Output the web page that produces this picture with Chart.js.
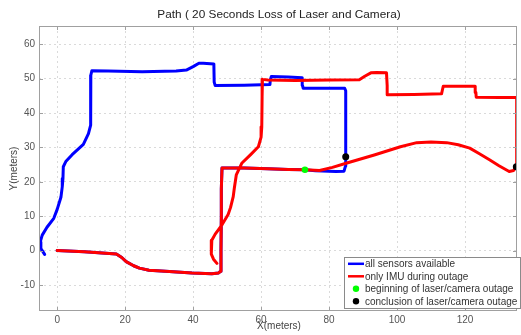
<!DOCTYPE html>
<html>
<head>
<meta charset="utf-8">
<script src="https://cdn.jsdelivr.net/npm/chart.js@4.4.1/dist/chart.umd.min.js"></script>
<style>
  html, body { margin: 0; padding: 0; background: #fff; }
  #wrap { width: 521px; height: 335px; }
</style>
</head>
<body>
<div id="wrap"><canvas id="c" width="521" height="335"></canvas></div>
<script>
// Trajectory shared by both estimates until the laser/camera outage begins [x, y] (m)
const sharedPath = [
  [0, 0], [8, -0.3], [17.4, -1.0], [19, -2.0], [20.3, -3.2], [22.5, -4.4], [24.2, -5.1],
  [27, -5.7], [33, -6.1], [39.7, -6.5], [45.5, -6.7], [47.5, -6.5], [48.1, -6.0],
  [48.2, 0], [48.3, 10], [48.3, 18], [48.5, 24.0], [55, 24.0], [62, 23.8], [68, 23.6], [72.9, 23.5]
];

// Path with all sensors available, after the outage start
const allSensorsPath = [
  [76, 23.2], [82, 23.0], [84.4, 23.1], [84.8, 24.5], [84.9, 27.3], [84.9, 35], [84.9, 46.5],
  [84.6, 47.2], [78, 47.2], [72.4, 47.2], [72.2, 48], [72.1, 50.3], [68, 50.5], [63, 50.6],
  [62.7, 49.5], [62.6, 48.3], [55, 48.1], [46.5, 48.0], [46.2, 49], [46.1, 54.3], [43, 54.5],
  [41.7, 54.5], [40, 53.5], [38, 52.5], [35, 52.2], [25, 52.0], [15, 52.2], [10.2, 52.3],
  [9.9, 51], [9.9, 40], [9.8, 36.5], [9.2, 34], [7.7, 30.9], [4.4, 27.9], [2.6, 26],
  [1.8, 24.4], [1.7, 21], [1.5, 18.6], [1.1, 15.5], [0, 12], [-1.0, 9.4], [-3.0, 6.8],
  [-4.4, 4.5], [-5.0, 2.5], [-4.8, 0.6], [-4.2, -0.3], [-3.7, -1.1]
];

// Path estimated from the IMU alone, after the outage start
const imuOnlyPath = [
  [77.2, 23.3], [81, 24.2], [85, 25.4], [93.3, 27.8], [101, 30.2], [105.8, 31.4], [110, 31.6],
  [114.6, 31.4], [118, 30.8], [121.4, 29.8], [124, 28.3], [127.2, 26.4], [130, 24.7],
  [133, 23.0], [134.3, 23.3], [135.1, 24.4], [135.2, 30], [135.2, 40], [135.2, 44.5],
  [130, 44.5], [123.3, 44.6], [123.2, 46], [123, 47.8], [118, 47.8], [113.6, 47.8],
  [113.3, 46.5], [113.1, 45.6], [105, 45.4], [97.3, 45.3], [97.1, 48], [96.9, 51.7],
  [94, 51.8], [92.3, 51.7], [90.5, 50.7], [88.9, 49.7], [80, 49.6], [70, 49.5], [62, 49.6],
  [60.4, 49.8], [60.3, 45], [60.2, 36], [60, 33], [59.2, 30.2], [57, 28], [54.3, 25.4],
  [52.7, 22], [52.1, 18], [51.8, 15.7], [51, 12.5], [50.3, 10.5], [48.5, 7.5], [46.5, 4.8],
  [45.5, 3.0], [45.3, 0.5], [45.4, -1], [46, -2.5], [47.0, -3.7]
];

// Outage start and end markers
const outageStart = [[72.9, 23.5]];
const outageEnd = [[84.9, 27.3], [135.1, 24.4]];

// Axis tick values
const xTickValues = [0, 20, 40, 60, 80, 100, 120];
const yTickValues = [-10, 0, 10, 20, 30, 40, 50, 60];

const seriesLabels = [
  'all sensors available',
  'only IMU during outage',
  'beginning of laser/camera outage',
  'conclusion of laser/camera outage'
];

const FONT = "'Liberation Sans', Arial, sans-serif";
const toPts = arr => arr.map(([x, y]) => ({ x, y }));

// Frame, inside tick marks, title, axis titles and legend box
const decorations = {
  id: 'decorations',
  afterDraw(chart) {
    const { ctx, chartArea: a, scales } = chart;
    ctx.save();
    // axes box
    ctx.strokeStyle = '#a0a0a0';
    ctx.lineWidth = 1;
    ctx.strokeRect(a.left + 0.5, a.top + 0.5, a.right - a.left - 1, a.bottom - a.top - 1);
    // inside ticks
    ctx.beginPath();
    const tl = 4;
    xTickValues.forEach(v => {
      const px = Math.round(scales.x.getPixelForValue(v)) + 0.5;
      ctx.moveTo(px, a.bottom); ctx.lineTo(px, a.bottom - tl);
      ctx.moveTo(px, a.top); ctx.lineTo(px, a.top + tl);
    });
    yTickValues.forEach(v => {
      const py = Math.round(scales.y.getPixelForValue(v)) + 0.5;
      ctx.moveTo(a.left, py); ctx.lineTo(a.left + tl, py);
      ctx.moveTo(a.right, py); ctx.lineTo(a.right - tl, py);
    });
    ctx.stroke();

    // title
    ctx.fillStyle = '#222';
    ctx.font = '11.8px ' + FONT;
    ctx.textAlign = 'center';
    ctx.textBaseline = 'middle';
    ctx.fillText('Path ( 20 Seconds Loss of Laser and Camera)', (a.left + a.right) / 2 + 1, 15);

    // axis titles
    ctx.fillStyle = '#444';
    ctx.font = '10px ' + FONT;
    ctx.fillText('X(meters)', (a.left + a.right) / 2 + 1, 326);
    ctx.save();
    ctx.translate(14, (a.top + a.bottom) / 2);
    ctx.rotate(-Math.PI / 2);
    ctx.fillText('Y(meters)', 0, 0);
    ctx.restore();

    // legend
    const lx = 344.5, ly = 257.5, lw = 176, lh = 51;
    ctx.fillStyle = '#fff';
    ctx.fillRect(lx, ly, lw, lh);
    ctx.strokeStyle = '#8a8a8a';
    ctx.strokeRect(lx, ly, lw, lh);
    const ds = chart.data.datasets;
    const rows = [ds[0], ds[1], ds[2], ds[3]];
    ctx.textAlign = 'left';
    ctx.font = '10px ' + FONT;
    rows.forEach((d, i) => {
      const y = 263.8 + i * 12.5;
      if (d.showLine) {
        ctx.strokeStyle = d.borderColor;
        ctx.lineWidth = 2.5;
        ctx.beginPath();
        ctx.moveTo(348, y); ctx.lineTo(364, y);
        ctx.stroke();
      } else {
        ctx.fillStyle = d.pointBackgroundColor;
        ctx.beginPath();
        ctx.arc(356, y, 3.2, 0, Math.PI * 2);
        ctx.fill();
      }
      ctx.fillStyle = '#333';
      ctx.fillText(d.label, 365, y + 0.5);
    });
    ctx.restore();
  }
};

new Chart(document.getElementById('c'), {
  type: 'scatter',
  data: {
    datasets: [
      {
        label: seriesLabels[0],
        data: toPts(sharedPath.concat(allSensorsPath)),
        showLine: true, borderColor: '#0000ff', borderWidth: 3,
        pointRadius: 0, tension: 0, borderJoinStyle: 'round', borderCapStyle: 'round',
        order: 4
      },
      {
        label: seriesLabels[1],
        data: toPts(sharedPath.concat(imuOnlyPath)),
        showLine: true, borderColor: '#ff0000', borderWidth: 3,
        pointRadius: 0, tension: 0, borderJoinStyle: 'round', borderCapStyle: 'round',
        order: 3
      },
      {
        label: seriesLabels[2],
        data: toPts(outageStart),
        showLine: false, pointRadius: 3.3, pointBackgroundColor: '#00ff00',
        pointBorderColor: '#00ff00', pointBorderWidth: 0, order: 1
      },
      {
        label: seriesLabels[3],
        data: toPts(outageEnd),
        showLine: false, pointRadius: 3.5, pointBackgroundColor: '#000000',
        pointBorderColor: '#000000', pointBorderWidth: 0, order: 2
      }
    ]
  },
  options: {
    responsive: false,
    animation: false,
    devicePixelRatio: 1,
    layout: { padding: { left: 0, right: 1, top: 26, bottom: 0 } },
    plugins: { legend: { display: false }, tooltip: { enabled: false }, title: { display: false } },
    scales: {
      x: {
        type: 'linear', min: -5.35, max: 135.3,
        afterBuildTicks: s => { s.ticks = xTickValues.map(v => ({ value: v })); },
        afterFit: s => { s.height = 24; },
        grid: { color: '#dadada', lineWidth: 1, drawTicks: false },
        border: { display: false, dash: [2, 3] },
        ticks: { padding: 3, color: '#555', font: { family: FONT, size: 10 }, maxRotation: 0 }
      },
      y: {
        type: 'linear', min: -17.56, max: 65.32,
        afterBuildTicks: s => { s.ticks = yTickValues.map(v => ({ value: v })); },
        afterFit: s => { s.width = 39; },
        grid: { color: '#dadada', lineWidth: 1, drawTicks: false },
        border: { display: false, dash: [2, 3] },
        ticks: { padding: 4, color: '#555', font: { family: FONT, size: 10 } }
      }
    }
  },
  plugins: [decorations]
});
</script>
</body>
</html>
